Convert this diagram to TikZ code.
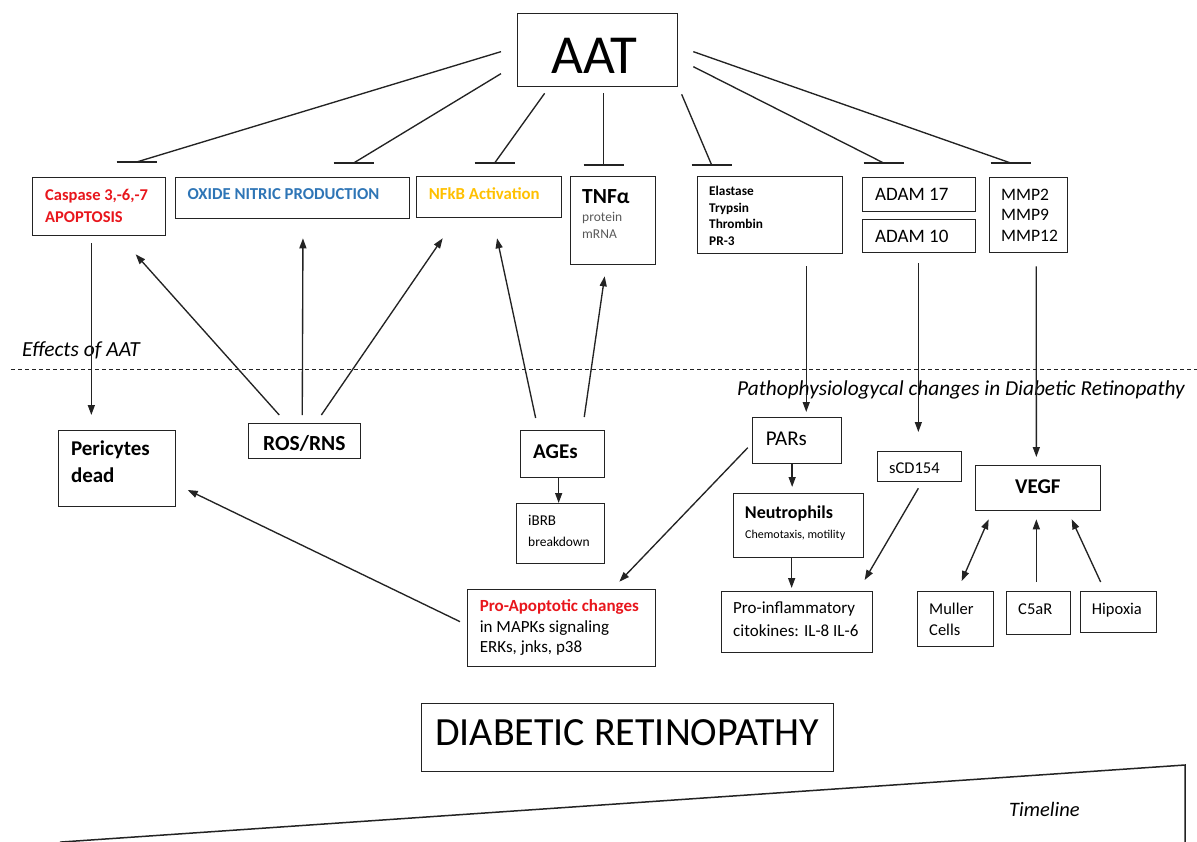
\documentclass[tikz,border=0pt]{standalone}
\usepackage{fontspec}
\setmainfont{Carlito}
\usetikzlibrary{arrows.meta,calc}
\definecolor{redc}{RGB}{232,22,28}
\definecolor{bluec}{RGB}{46,117,182}
\definecolor{orangec}{RGB}{255,192,0}
\definecolor{grayt}{RGB}{89,89,89}
\definecolor{linec}{RGB}{35,35,35}
\newcommand{\setfs}[1]{\fontsize{#1}{#1}\selectfont}
\tikzset{
  box/.style={draw=linec, line width=1.3pt, inner sep=0pt, anchor=north west},
  t/.style={inner sep=0pt, anchor=base west},
  con/.style={draw=linec, line width=1.35pt},
  arr/.style={con, -{Triangle[length=10pt,width=7pt]}},
  darr/.style={con, {Triangle[length=10pt,width=7pt]}-{Triangle[length=10pt,width=7pt]}},
  inhbar/.style={draw=linec, line width=2.3pt},
}
\begin{document}
\begin{tikzpicture}[x=1pt,y=-1pt]
\useasboundingbox (0,0) rectangle (1197,841);
% ---------- boxes ----------
\node[box, minimum width=160, minimum height=73] (aat) at (517,13) {};
\node[box, minimum width=133, minimum height=58] (casp) at (32,177) {};
\node[box, minimum width=234, minimum height=41] (oxide) at (175,177) {};
\node[box, minimum width=145, minimum height=41] (nfkb) at (416,176) {};
\node[box, minimum width=85, minimum height=88] (tnf) at (570,176) {};
\node[box, minimum width=145, minimum height=77] (elast) at (697,176) {};
\node[box, minimum width=113, minimum height=34] (adam17) at (862,177) {};
\node[box, minimum width=113, minimum height=33] (adam10) at (862,219) {};
\node[box, minimum width=78, minimum height=75] (mmp) at (989,177) {};
\node[box, minimum width=117, minimum height=76] (peri) at (58,430) {};
\node[box, minimum width=112, minimum height=35] (ros) at (248,423) {};
\node[box, minimum width=84, minimum height=47] (ages) at (520,430) {};
\node[box, minimum width=88, minimum height=60] (ibrb) at (516,503) {};
\node[box, minimum width=89, minimum height=46] (pars) at (752,417) {};
\node[box, minimum width=84, minimum height=30] (scd) at (877,451) {};
\node[box, minimum width=125, minimum height=45] (vegf) at (975,465) {};
\node[box, minimum width=130, minimum height=64] (neut) at (733,493) {};
\node[box, minimum width=188, minimum height=77] (proap) at (467,589) {};
\node[box, minimum width=151, minimum height=61] (proinf) at (721,591) {};
\node[box, minimum width=76, minimum height=55] (muller) at (917,591) {};
\node[box, minimum width=64, minimum height=43] (c5ar) at (1006,591) {};
\node[box, minimum width=76, minimum height=41] (hip) at (1080,591) {};
\node[box, minimum width=412, minimum height=68] (dr) at (421,703) {};
% ---------- texts ----------
\node[t, font=\setfs{55}] at (551,73) {AAT};
\node[t, font=\setfs{16.5}\bfseries, text=redc] at (45,200) {Caspase 3,-6,-7};
\node[t, font=\setfs{16.5}\bfseries, text=redc] at (45,222) {APOPTOSIS};
\node[t, font=\setfs{16.7}\bfseries, text=bluec] at (187.5,199.3) {OXIDE NITRIC PRODUCTION};
\node[t, font=\setfs{16.8}\bfseries, text=orangec] at (428.6,199) {NFkB Activation};
\node[t, font=\setfs{21.5}\bfseries] at (582,203.3) {TNFα};
\node[t, font=\setfs{13.5}, text=grayt] at (582,221) {protein};
\node[t, font=\setfs{13.5}, text=grayt] at (582,238) {mRNA};
\node[t, font=\setfs{13.3}\bfseries] at (709,195.7) {Elastase};
\node[t, font=\setfs{13.3}\bfseries] at (709,212) {Trypsin};
\node[t, font=\setfs{13.3}\bfseries] at (709,228.5) {Thrombin};
\node[t, font=\setfs{13.3}\bfseries] at (709,245) {PR-3};
\node[t, font=\setfs{19}] at (875,200) {ADAM 17};
\node[t, font=\setfs{19}] at (875,242.3) {ADAM 10};
\node[t, font=\setfs{17.5}] at (1001,200) {MMP2};
\node[t, font=\setfs{17.5}] at (1001,220.5) {MMP9};
\node[t, font=\setfs{17.5}] at (1001,241.5) {MMP12};
\node[t, font=\setfs{21}\bfseries] at (70.8,455) {Pericytes};
\node[t, font=\setfs{21}\bfseries] at (70.8,482.5) {dead};
\node[t, font=\setfs{21.5}\bfseries] at (263,450) {ROS/RNS};
\node[t, font=\setfs{21}\bfseries] at (533,458) {AGEs};
\node[t, font=\setfs{15}] at (528,525.7) {iBRB};
\node[t, font=\setfs{13.5}] at (528,546.7) {breakdown};
\node[t, font=\setfs{21}] at (765.6,445) {PARs};
\node[t, font=\setfs{16.5}] at (889,473.3) {sCD154};
\node[t, font=\setfs{21}\bfseries] at (1015,493) {VEGF};
\node[t, font=\setfs{18}\bfseries] at (744.7,518) {Neutrophils};
\node[t, font=\setfs{12}] at (745,538.5) {Chemotaxis, motility};
\node[t, font=\setfs{17}\bfseries, text=redc] at (479.6,611.7) {Pro-Apoptotic changes};
\node[t, font=\setfs{17}] at (479.6,632.5) {in MAPKs signaling};
\node[t, font=\setfs{17}] at (479.6,652.5) {ERKs, jnks, p38};
\node[t, font=\setfs{17}] at (733,613.3) {Pro-inflammatory};
\node[t, font=\setfs{17}] at (733,636) {citokines: IL-8 IL-6};
\node[t, font=\setfs{16.5}] at (929,614) {Muller};
\node[t, font=\setfs{16.5}] at (929,635) {Cells};
\node[t, font=\setfs{16.5}] at (1018,614) {C5aR};
\node[t, font=\setfs{16.5}] at (1091.7,614) {Hipoxia};
\node[t, font=\setfs{40}] at (435,745.5) {DIABETIC RETINOPATHY};
\node[t, font=\setfs{21.5}\itshape] at (22,356.5) {Effects of AAT};
\node[t, font=\setfs{21.3}\itshape] at (737,395.5) {Pathophysiologycal changes in Diabetic Retinopathy};
\node[t, font=\setfs{20.5}\itshape] at (1009,816.7) {Timeline};
% ---------- dividers ----------
\draw[linec, line width=1pt, dash pattern=on 4pt off 3pt] (11,369) -- (1197,369);
\draw[linec, line width=1.5pt] (60,842.1) -- (1185,765) -- (1185,845);
% ---------- inhibition from AAT ----------
\coordinate (s1) at ([shift={(-16,1.5)}]aat.west);
\coordinate (s2) at ([shift={(-16,23.5)}]aat.west);
\coordinate (s3) at ([shift={(-53,6)}]aat.south);
\coordinate (s4) at ([shift={(6,6)}]aat.south);
\coordinate (s5) at ([shift={(84,7)}]aat.south);
\coordinate (s6) at ([shift={(15,16.5)}]aat.east);
\coordinate (s7) at ([shift={(15,1.5)}]aat.east);
\coordinate (e1) at ([shift={(37.5,-15)}]casp.north);
\coordinate (e2) at ([shift={(61,-14)}]oxide.north);
\coordinate (e3) at ([shift={(5.5,-13)}]nfkb.north);
\coordinate (e4) at ([shift={(-9.5,-11)}]tnf.north);
\coordinate (e5) at ([shift={(-58.5,-11)}]elast.north);
\coordinate (e6) at ([shift={(-35.5,-14)}]adam17.north);
\coordinate (e7) at ([shift={(-18,-14)}]mmp.north);
\foreach \i in {1,...,7}{
  \draw[con] (s\i) -- (e\i);
  \draw[inhbar] ([xshift=-20pt]e\i) -- ([xshift=20pt]e\i);
}
% ---------- arrows ----------
\draw[arr] ([shift={(-7.8,7)}]casp.south) -- ([shift={(-25.8,-15)}]peri.north);
\draw[arr] ([shift={(-25.4,-8)}]ros.north) -- ([shift={(36.5,18)}]casp.south);
\draw[arr] ([shift={(-2.4,-8)}]ros.north) -- ([shift={(10.3,19)}]oxide.south);
\draw[arr] ([shift={(16.7,-8)}]ros.north) -- ([shift={(-46.5,20)}]nfkb.south);
\draw[arr] ([shift={(-27,-12)}]ages.north) -- ([shift={(7.9,20)}]nfkb.south);
\draw[arr] ([shift={(21.6,-13)}]ages.north) -- ([shift={(-8.5,11)}]tnf.south);
\draw[arr] ([shift={(-4,0)}]ages.south) -- ([shift={(-2,0)}]ibrb.north);
\draw[arr] ([shift={(36.1,12)}]elast.south) -- ([shift={(9.1,-5)}]pars.north);
\draw[arr] ([shift={(-0.8,10)}]adam10.south) -- ([shift={(-1.3,-19)}]scd.north);
\draw[arr] ([shift={(7.6,13)}]mmp.south) -- ([shift={(-1.8,-8)}]vegf.north);
\draw[arr] ([shift={(-5,0)}]pars.south) -- ([shift={(-6.5,-6)}]neut.north);
\draw[arr] ([shift={(-4.2,7)}]pars.west) -- ([shift={(57.7,-7.3)}]proap.north);
\draw[arr] ([shift={(-7,0)}]neut.south) -- ([shift={(-5.5,-3)}]proinf.north);
\draw[arr] ([shift={(-1.3,6)}]scd.south) -- ([shift={(67.5,-11)}]proinf.north);
\draw[darr] ([shift={(6,-10)}]muller.north) -- ([shift={(-49.5,8)}]vegf.south);
\draw[arr] ([shift={(-2.3,-9)}]c5ar.north) -- ([shift={(-1.8,8)}]vegf.south);
\draw[arr] ([shift={(-18,-9)}]hip.north) -- ([shift={(33.5,8)}]vegf.south);
\draw[arr] ([shift={(-7,-6.5)}]proap.west) -- ([shift={(11.4,21.3)}]peri.east);
\end{tikzpicture}
\end{document}
